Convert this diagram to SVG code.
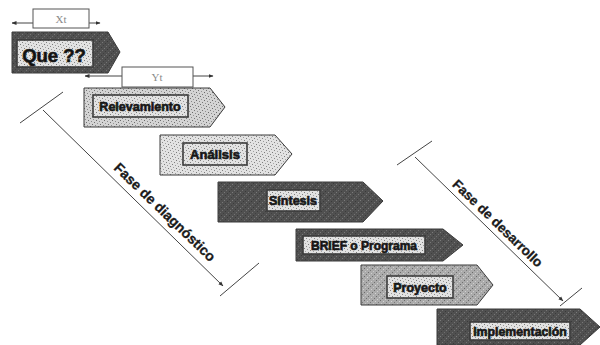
<svg xmlns="http://www.w3.org/2000/svg" width="600" height="345" viewBox="0 0 600 345">
<defs>
<pattern id="pLight" width="8" height="8" patternUnits="userSpaceOnUse">
<rect width="8" height="8" fill="#e2e2e2"/>
<rect x="0" y="0" width="1" height="1" fill="#7a7a7a"/><rect x="3" y="1" width="1" height="1" fill="#9a9a9a"/>
<rect x="6" y="2" width="1" height="1" fill="#808080"/><rect x="1" y="3" width="1" height="1" fill="#a5a5a5"/>
<rect x="4" y="4" width="1" height="1" fill="#7a7a7a"/><rect x="7" y="5" width="1" height="1" fill="#999"/>
<rect x="2" y="6" width="1" height="1" fill="#888"/><rect x="5" y="7" width="1" height="1" fill="#a0a0a0"/>
</pattern>
<pattern id="pLight2" width="8" height="8" patternUnits="userSpaceOnUse">
<rect width="8" height="8" fill="#d4d4d4"/>
<rect x="0" y="0" width="1" height="1" fill="#6a6a6a"/><rect x="3" y="1" width="1" height="1" fill="#8a8a8a"/>
<rect x="6" y="2" width="1" height="1" fill="#707070"/><rect x="1" y="3" width="1" height="1" fill="#959595"/>
<rect x="4" y="4" width="1" height="1" fill="#6a6a6a"/><rect x="7" y="5" width="1" height="1" fill="#888"/>
<rect x="2" y="6" width="1" height="1" fill="#777"/><rect x="5" y="7" width="1" height="1" fill="#909090"/>
</pattern>
<pattern id="pMid" width="8" height="8" patternUnits="userSpaceOnUse">
<rect width="8" height="8" fill="#ababab"/>
<rect x="0" y="0" width="1" height="1" fill="#6a6a6a"/><rect x="3" y="1" width="1" height="1" fill="#d0d0d0"/>
<rect x="6" y="2" width="1" height="1" fill="#707070"/><rect x="1" y="3" width="1" height="1" fill="#cfcfcf"/>
<rect x="4" y="4" width="1" height="1" fill="#6a6a6a"/><rect x="7" y="5" width="1" height="1" fill="#d5d5d5"/>
<rect x="2" y="6" width="1" height="1" fill="#777"/><rect x="5" y="7" width="1" height="1" fill="#c8c8c8"/>
</pattern>
<pattern id="pDark" width="8" height="8" patternUnits="userSpaceOnUse">
<rect width="8" height="8" fill="#505050"/>
<rect x="0" y="0" width="1" height="1" fill="#7a7a7a"/><rect x="3" y="1" width="1" height="1" fill="#3a3a3a"/>
<rect x="6" y="2" width="1" height="1" fill="#777"/><rect x="1" y="3" width="1" height="1" fill="#3c3c3c"/>
<rect x="4" y="4" width="1" height="1" fill="#6f6f6f"/><rect x="7" y="5" width="1" height="1" fill="#404040"/>
<rect x="2" y="6" width="1" height="1" fill="#747474"/><rect x="5" y="7" width="1" height="1" fill="#3a3a3a"/>
</pattern>
<marker id="ah" viewBox="0 0 10 10" refX="9" refY="5" markerWidth="5" markerHeight="5" orient="auto-start-reverse">
<path d="M0,1 L10,5 L0,9 Z" fill="#333"/>
</marker>
<style>
.outer{stroke:#3a3a3a;stroke-width:1}
.light{fill:url(#pLight)}
.light2{fill:url(#pLight2)}
.mid{fill:url(#pMid)}
.dark{fill:url(#pDark)}
.inner{fill:url(#pLight);stroke:#3c3c3c;stroke-width:1.6}
.lbl{font-family:"Liberation Sans",Arial,sans-serif;font-weight:bold;fill:#111;text-anchor:middle;stroke:#222;stroke-width:0.7;stroke-linejoin:round}
.tbox{fill:#fff;stroke:#555;stroke-width:1}
.tlbl{font-family:"Liberation Serif",serif;font-size:11px;fill:#8a8a8a;text-anchor:middle}
.conn{stroke:#444;stroke-width:1;fill:none}
.phase{font-family:"Liberation Sans",Arial,sans-serif;font-weight:bold;fill:#1a1a1a;text-anchor:middle;stroke:#1a1a1a;stroke-width:0.3}
</style>
</defs>
<rect width="600" height="345" fill="#fff"/>

<g id="connectors">
<line class="conn" x1="33" y1="23" x2="12" y2="23" marker-end="url(#ah)"/>
<line class="conn" x1="89" y1="23" x2="100" y2="23" marker-end="url(#ah)"/>
<line class="conn" x1="122" y1="76" x2="85" y2="76" marker-end="url(#ah)"/>
<line class="conn" x1="193" y1="76" x2="213" y2="76" marker-end="url(#ah)"/>
<line class="conn" x1="20" y1="123" x2="63" y2="92"/>
<line class="conn" x1="43" y1="110" x2="223" y2="286" marker-end="url(#ah)"/>
<line class="conn" x1="220" y1="296" x2="259" y2="263"/>
<line class="conn" x1="397" y1="165" x2="432" y2="141"/>
<line class="conn" x1="415" y1="157" x2="563" y2="301" marker-end="url(#ah)"/>
<line class="conn" x1="560" y1="306" x2="582" y2="288"/>
</g>

<g id="timeX">
<rect class="tbox" x="33" y="9" width="56" height="19"/>
<text class="tlbl" x="61" y="23">Xt</text>
</g>
<g id="timeY">
<rect class="tbox" x="122" y="67" width="71" height="20"/>
<text class="tlbl" x="157" y="81">Yt</text>
</g>

<g id="que">
<path class="outer dark" d="M12,32 H108 L120,52 L108,73 H12 Z"/>
<rect class="inner" x="17" y="40" width="76" height="27"/>
<text class="lbl" x="54" y="61.5" font-size="18.5">Que ??</text>
</g>
<g id="relevamiento">
<path class="outer light2" d="M84,88 H210 L225,107 L210,127 H84 Z"/>
<rect class="inner" x="93" y="95" width="95" height="22"/>
<text class="lbl" x="140" y="111" font-size="12.5">Relevamiento</text>
</g>
<g id="analisis">
<path class="outer light" d="M160,135 H275 L292,154 L275,175 H160 Z"/>
<rect class="inner" x="183" y="143" width="64" height="22"/>
<text class="lbl" x="215" y="159" font-size="13">Análisis</text>
</g>
<g id="sintesis">
<path class="outer dark" d="M218,182 H363 L383,201 L363,222 H218 Z"/>
<rect class="inner" x="267" y="190" width="53" height="21"/>
<text class="lbl" x="293" y="205" font-size="12.5">Síntesis</text>
</g>
<g id="brief">
<path class="outer dark" d="M296,229 H443 L463,245 L443,261 H296 Z"/>
<rect class="inner" x="303" y="236" width="122" height="18"/>
<text class="lbl" x="364" y="249.5" font-size="12">BRIEF o Programa</text>
</g>
<g id="proyecto">
<path class="outer mid" d="M361,265 H477 L493,285 L477,305 H361 Z"/>
<rect class="inner" x="387" y="276" width="66" height="22"/>
<text class="lbl" x="420" y="291.5" font-size="12.5">Proyecto</text>
</g>
<g id="implementacion">
<path class="outer dark" d="M437,309 H580 L600,327 L580,345 H437 Z"/>
<rect class="inner" x="470" y="322" width="100" height="18"/>
<text class="lbl" x="520" y="335.5" font-size="12.3">Implementación</text>
</g>

<g id="fase-diagnostico">
<text class="phase" font-size="14" transform="translate(165,212) rotate(44)" x="0" y="5">Fase de diagnóstico</text>
</g>
<g id="fase-desarrollo">
<text class="phase" font-size="13.5" transform="translate(498,223) rotate(44)" x="0" y="5">Fase de desarrollo</text>
</g>
</svg>
